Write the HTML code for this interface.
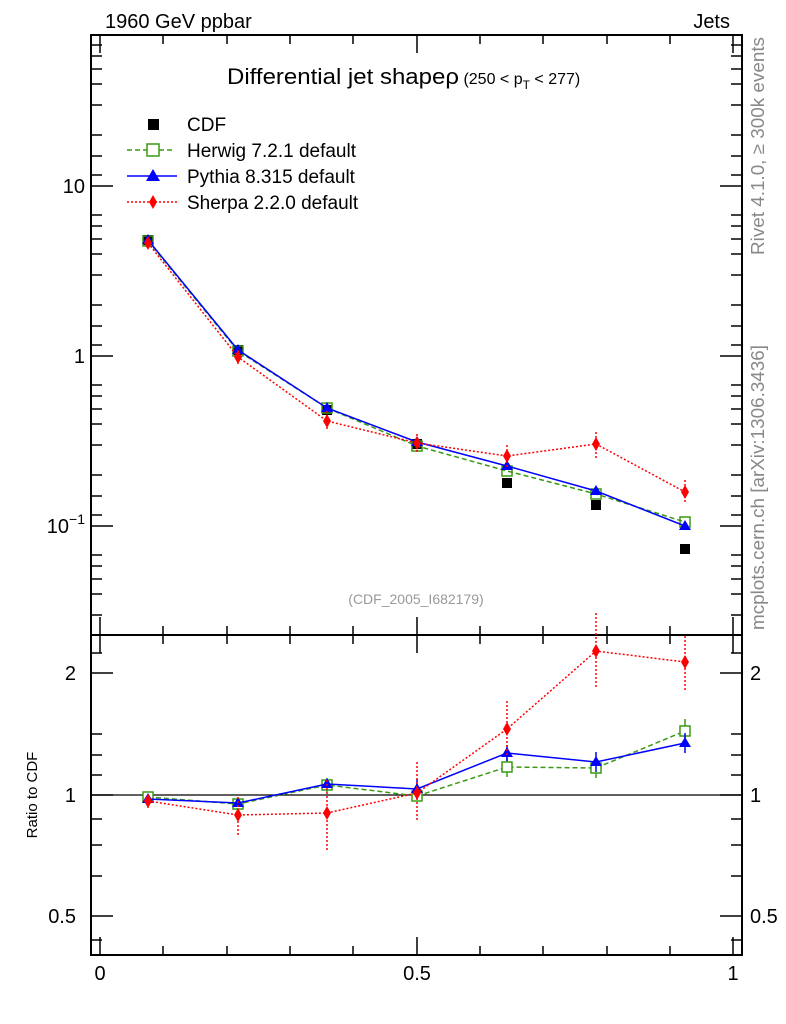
<!DOCTYPE html>
<html><head><meta charset="utf-8"><style>body{margin:0;background:#fff}svg{display:block}text{font-family:"Liberation Sans",sans-serif}</style></head><body>
<svg width="786" height="1024" xmlns="http://www.w3.org/2000/svg">
<rect width="786" height="1024" fill="#fff"/>
<text x="105" y="28" font-size="20">1960 GeV ppbar</text>
<text x="730" y="28" font-size="20" text-anchor="end">Jets</text>
<g fill="none" stroke="#000" stroke-width="2">
<rect x="91" y="35" width="651" height="600"/>
<rect x="91" y="635" width="651" height="320"/>
</g>
<g id="ticks" stroke="#000" stroke-width="1.5">
<path d="M100,955v-18M417,955v-18M733,955v-18M100,635v-18M417,635v-18M733,635v-18M100,635v18M417,635v18M733,635v18M100,35v18M417,35v18M733,35v18"/>
<path d="M163,955v-9M227,955v-9M290,955v-9M353,955v-9M480,955v-9M543,955v-9M607,955v-9M670,955v-9M163,635v-9M227,635v-9M290,635v-9M353,635v-9M480,635v-9M543,635v-9M607,635v-9M670,635v-9M163,635v9M227,635v9M290,635v9M353,635v9M480,635v9M543,635v9M607,635v9M670,635v9M163,35v9M227,35v9M290,35v9M353,35v9M480,35v9M543,35v9M607,35v9M670,35v9"/>
<path d="M91,186h22M91,356h22M91,526h22M742,186h-22M742,356h-22M742,526h-22"/>
<path d="M91,35h11M91,45h11M91,56h11M91,69h11M91,84h11M91,105h11M91,135h11M91,156h11M91,175h11
M91,215h11M91,226h11M91,239h11M91,254h11M91,275h11M91,305h11M91,326h11M91,345h11
M91,385h11M91,396h11M91,409h11M91,424h11M91,445h11M91,475h11M91,496h11M91,515h11
M91,555h11M91,566h11M91,579h11M91,594h11M91,615h11
M742,35h-11M742,45h-11M742,56h-11M742,69h-11M742,84h-11M742,105h-11M742,135h-11M742,156h-11M742,175h-11
M742,215h-11M742,226h-11M742,239h-11M742,254h-11M742,275h-11M742,305h-11M742,326h-11M742,345h-11
M742,385h-11M742,396h-11M742,409h-11M742,424h-11M742,445h-11M742,475h-11M742,496h-11M742,515h-11
M742,555h-11M742,566h-11M742,579h-11M742,594h-11M742,615h-11"/>
<path d="M91,673h22M91,795h22M91,916h22M742,673h-22M742,795h-22M742,916h-22"/>
<path d="M91,653h11M91,734h11M91,755h11M91,775h11M91,819h11M91,845h11M91,876h11M91,940h11M742,653h-11M742,734h-11M742,755h-11M742,775h-11M742,819h-11M742,845h-11M742,876h-11M742,940h-11"/>
</g>
<line x1="91" y1="795" x2="742" y2="795" stroke="#000" stroke-width="1.2"/>
<g font-size="20">
<text x="85" y="193" text-anchor="end">10</text>
<text x="85" y="363" text-anchor="end">1</text>
<text x="85" y="533" text-anchor="end">10<tspan font-size="14" dy="-9">−1</tspan></text>
<text x="76" y="680" text-anchor="end">2</text>
<text x="76" y="802" text-anchor="end">1</text>
<text x="76" y="923" text-anchor="end">0.5</text>
<text x="750" y="680">2</text>
<text x="750" y="802">1</text>
<text x="750" y="923">0.5</text>
<text x="100" y="980" text-anchor="middle">0</text>
<text x="417" y="980" text-anchor="middle">0.5</text>
<text x="733" y="980" text-anchor="middle">1</text>
</g>
<text x="37" y="795" font-size="15" transform="rotate(-90 37 795)" text-anchor="middle">Ratio to CDF</text>
<text x="764" y="255" font-size="18" fill="#888" transform="rotate(-90 764 255)" textLength="218" lengthAdjust="spacingAndGlyphs">Rivet 4.1.0, ≥ 300k events</text>
<text x="764" y="630" font-size="18" fill="#888" transform="rotate(-90 764 630)" textLength="285" lengthAdjust="spacingAndGlyphs">mcplots.cern.ch [arXiv:1306.3436]</text>
<text x="416" y="604" font-size="14" fill="#999" text-anchor="middle">(CDF_2005_I682179)</text>
<text x="227" y="84" font-size="22"><tspan textLength="232" lengthAdjust="spacingAndGlyphs">Differential jet shapeρ</tspan><tspan font-size="16"> (250 &lt; p</tspan><tspan font-size="12" dy="5">T</tspan><tspan font-size="16" dy="-5"> &lt; 277)</tspan></text>
<rect x="148" y="119" width="11" height="11" fill="#000"/>
<text x="187" y="131" font-size="19">CDF</text>
<line x1="127" y1="150" x2="175" y2="150" stroke="#3a9a12" stroke-width="1.5" stroke-dasharray="5,3"/>
<rect x="147" y="144" width="12" height="12" fill="#fff" stroke="#3a9a12" stroke-width="1.5"/>
<text x="187" y="157" font-size="19">Herwig 7.2.1 default</text>
<line x1="127" y1="176" x2="177" y2="176" stroke="#00f" stroke-width="1.5"/>
<polygon points="153,169 160,181 146,181" fill="#00f"/>
<text x="187" y="183" font-size="19">Pythia 8.315 default</text>
<line x1="127" y1="202" x2="177" y2="202" stroke="#f00" stroke-width="1.5" stroke-dasharray="2,2"/>
<polygon points="153,195 157,202 153,209 149,202" fill="#f00"/>
<text x="187" y="209" font-size="19">Sherpa 2.2.0 default</text>
<g fill="#000"><rect x="143" y="235" width="10" height="10"/><rect x="233" y="345" width="10" height="10"/><rect x="322" y="405" width="10" height="10"/><rect x="412" y="439" width="10" height="10"/><rect x="502" y="478" width="10" height="10"/><rect x="591" y="500" width="10" height="10"/><rect x="680" y="544" width="10" height="10"/></g>
<polyline points="148,241 238,351 327,408 417,446 507,471 596,494 685,522" fill="none" stroke="#3a9a12" stroke-width="1.5" stroke-dasharray="5,3"/>
<g fill="none" stroke="#3a9a12" stroke-width="1.5"><rect x="143" y="236" width="10" height="10"/><rect x="233" y="346" width="10" height="10"/><rect x="322" y="403" width="10" height="10"/><rect x="412" y="441" width="10" height="10"/><rect x="502" y="466" width="10" height="10"/><rect x="591" y="489" width="10" height="10"/><rect x="680" y="517" width="10" height="10"/></g>
<polyline points="148,240 238,350 327,408 417,442 507,466 596,491 685,526" fill="none" stroke="#00f" stroke-width="1.5"/>
<g fill="#00f"><polygon points="148,234 154,244 142,244"/><polygon points="238,344 244,354 232,354"/><polygon points="327,402 333,412 321,412"/><polygon points="417,436 423,446 411,446"/><polygon points="507,460 513,470 501,470"/><polygon points="596,485 602,495 590,495"/><polygon points="685,520 691,530 679,530"/></g>
<polyline points="148,243 238,357 327,421 417,443 507,456 596,444 685,492" fill="none" stroke="#f00" stroke-width="1.5" stroke-dasharray="2,2"/>
<g stroke="#f00" stroke-width="1.5" stroke-dasharray="2,2"><path d="M327,411v20M417,434v18M507,445v22M596,432v26M685,480v24M238,350v14"/></g>
<g fill="#f00"><polygon points="148,236 152,243 148,250 144,243"/><polygon points="238,350 242,357 238,364 234,357"/><polygon points="327,414 331,421 327,428 323,421"/><polygon points="417,436 421,443 417,450 413,443"/><polygon points="507,449 511,456 507,463 503,456"/><polygon points="596,437 600,444 596,451 592,444"/><polygon points="685,485 689,492 685,499 681,492"/></g>
<polyline points="148,797 238,804 327,785 417,796 507,767 596,768 685,731" fill="none" stroke="#3a9a12" stroke-width="1.5" stroke-dasharray="5,3"/>
<g stroke="#3a9a12" stroke-width="1.5"><path d="M507,757v20M596,758v20M685,719v22M327,778v14"/></g>
<g fill="#fff" stroke="#3a9a12" stroke-width="1.5"><rect x="143" y="792" width="10" height="10"/><rect x="233" y="799" width="10" height="10"/><rect x="322" y="780" width="10" height="10"/><rect x="412" y="791" width="10" height="10"/><rect x="502" y="762" width="10" height="10"/><rect x="591" y="763" width="10" height="10"/><rect x="680" y="726" width="10" height="10"/></g>
<polyline points="148,799 238,803 327,784 417,789 507,753 596,762 685,743" fill="none" stroke="#00f" stroke-width="1.5"/>
<g stroke="#00f" stroke-width="1.5"><path d="M507,745v16M596,752v20M685,733v20M417,779v20"/></g>
<g fill="#00f"><polygon points="148,793 154,803 142,803"/><polygon points="238,797 244,807 232,807"/><polygon points="327,778 333,788 321,788"/><polygon points="417,783 423,793 411,793"/><polygon points="507,747 513,757 501,757"/><polygon points="596,756 602,766 590,766"/><polygon points="685,737 691,747 679,747"/></g>
<polyline points="148,801 238,815 327,813 417,793 507,729 596,651 685,662" fill="none" stroke="#f00" stroke-width="1.5" stroke-dasharray="2,2"/>
<g stroke="#f00" stroke-width="1.5" stroke-dasharray="2,2"><path d="M148,794v14M238,797v38M327,780v70M417,762v58M507,701v56M596,613v74M685,636v54"/></g>
<g fill="#f00"><polygon points="148,794 152,801 148,808 144,801"/><polygon points="238,808 242,815 238,822 234,815"/><polygon points="327,806 331,813 327,820 323,813"/><polygon points="417,786 421,793 417,800 413,793"/><polygon points="507,722 511,729 507,736 503,729"/><polygon points="596,644 600,651 596,658 592,651"/><polygon points="685,655 689,662 685,669 681,662"/></g>
</svg>
</body></html>
